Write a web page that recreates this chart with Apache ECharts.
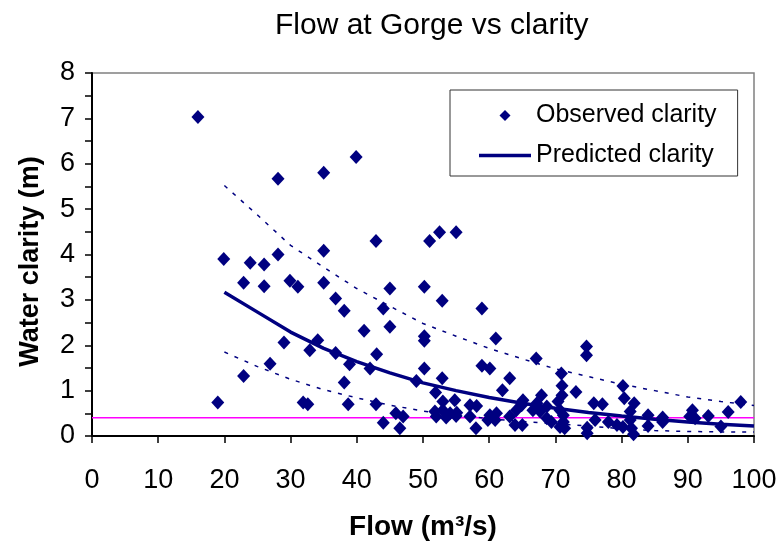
<!DOCTYPE html>
<html>
<head>
<meta charset="utf-8">
<script src="https://cdn.jsdelivr.net/npm/echarts@6/dist/echarts.min.js"></script>
<style>html,body{margin:0;padding:0;background:#fff}#c{width:781px;height:551px}</style>
</head>
<body>
<div id="c"></div>
<script>
const titleText = 'Flow at Gorge vs clarity';
const xTitle = 'Flow (m³/s)';
const yTitle = 'Water clarity (m)';
const xTicks = [0, 10, 20, 30, 40, 50, 60, 70, 80, 90, 100];
const yTicks = [0, 1, 2, 3, 4, 5, 6, 7, 8];

const obsFlow = [16.0,19.0,19.9,22.9,22.9,23.9,26.0,26.0,26.9,28.1,28.1,29.0,29.9,31.1,31.9,32.6,32.9,34.1,35.0,35.0,35.0,36.8,36.8,38.1,38.1,38.9,38.7,39.9,41.1,42.0,42.9,43.0,42.9,44.0,44.0,45.0,45.0,45.9,47.0,46.5,49.0,50.2,50.2,50.2,50.2,51.0,52.5,52.9,52.9,51.9,55.0,53.0,54.8,51.8,53.0,54.1,55.1,52.0,53.5,55.0,57.1,58.1,57.1,58.0,58.9,58.9,60.1,61.0,62.0,63.1,60.1,61.1,59.8,60.9,63.1,64.1,64.9,65.1,63.9,65.0,67.1,67.9,67.2,66.6,67.7,68.7,68.7,69.4,70.9,71.0,71.0,70.4,70.7,71.2,71.2,70.7,71.4,73.1,74.7,74.7,74.8,74.8,76.0,75.8,77.1,78.0,79.3,80.2,80.2,80.4,81.9,81.3,81.3,81.5,81.8,84.0,84.0,86.2,86.2,90.7,90.3,91.1,93.1,95.0,96.1,98.0];
const obsClarity = [7.03,0.74,3.90,3.38,1.32,3.82,3.78,3.30,1.59,5.67,4.00,2.06,3.42,3.29,0.74,0.70,1.89,2.11,5.80,4.08,3.38,3.03,1.83,2.76,1.18,1.58,0.70,6.15,2.32,1.49,4.30,1.80,0.70,2.81,0.29,3.25,2.41,0.50,0.43,0.17,1.21,3.29,2.20,2.10,1.49,4.30,4.49,2.98,1.27,0.96,4.49,0.76,0.79,0.54,0.57,0.50,0.51,0.43,0.41,0.44,0.68,0.66,0.43,0.17,2.81,1.55,1.49,2.15,1.01,1.27,0.46,0.50,0.35,0.35,0.43,0.57,0.68,0.79,0.24,0.24,1.71,0.90,0.72,0.57,0.54,0.65,0.39,0.31,1.38,1.11,0.90,0.76,0.57,0.46,0.31,0.20,0.17,0.97,1.97,1.78,0.18,0.06,0.35,0.72,0.70,0.31,0.24,0.20,1.10,0.83,0.72,0.54,0.35,0.17,0.04,0.46,0.22,0.41,0.31,0.57,0.43,0.39,0.44,0.21,0.53,0.75];

const predFlow = [20,25,30,35,40,45,50,55,60,65,70,75,80,85,90,95,100];
const predClarity = [3.17,2.73,2.29,1.93,1.64,1.39,1.17,1.00,0.85,0.72,0.61,0.52,0.44,0.37,0.31,0.26,0.22];
const upperClarity = [5.52,4.87,4.20,3.72,3.25,2.86,2.48,2.20,1.93,1.70,1.48,1.31,1.14,1.00,0.86,0.76,0.67];
const lowerClarity = [1.85,1.53,1.25,1.02,0.84,0.68,0.55,0.46,0.38,0.32,0.27,0.22,0.16,0.12,0.10,0.09,0.09];

const thresholdFlow = [0, 100];
const thresholdClarity = [0.4, 0.4];

const zip = (a, b) => a.map((v, i) => [v, b[i]]);
const FONT = '"Liberation Sans", Arial, sans-serif';
const NAVY = '#000080';

const chart = echarts.init(document.getElementById('c'), null, {renderer: 'canvas'});
chart.setOption({
  animation: false,
  backgroundColor: '#ffffff',
  title: {
    text: titleText, left: 270, top: 6,
    textStyle: {fontFamily: FONT, fontSize: 30, fontWeight: 'normal', color: '#000'}
  },
  grid: {left: 92, top: 73, right: 27, bottom: 115, show: true, borderColor: '#808080', borderWidth: 1.5, backgroundColor: 'transparent'},
  legend: {
    left: 450, top: 90, orient: 'vertical',
    data: [
      {name: 'Observed clarity', icon: 'path://M0,-1L1,0L0,1L-1,0Z'},
      {name: 'Predicted clarity', icon: 'path://M0,0L52,0L52,3.5L0,3.5Z'}
    ],
    symbolKeepAspect: true,
    itemWidth: 52, itemHeight: 11, itemGap: 15,
    padding: [13, 21, 8, 29],
    borderColor: '#333', borderWidth: 1,
    textStyle: {fontFamily: FONT, fontSize: 25, color: '#000'}
  },
  xAxis: {
    type: 'value', min: 0, max: 100, interval: 10,
    name: xTitle, nameLocation: 'middle', nameGap: 77,
    nameTextStyle: {fontFamily: FONT, fontSize: 28, fontWeight: 'bold', color: '#000'},
    axisLine: {show: true, onZero: false, lineStyle: {color: '#000', width: 2}},
    axisTick: {show: true, inside: false, length: 7, lineStyle: {color: '#000', width: 1.5}},
    axisLabel: {fontFamily: FONT, fontSize: 27, color: '#000', margin: 31, formatter: v => xTicks.includes(v) ? String(v) : ''},
    splitLine: {show: false}
  },
  yAxis: {
    type: 'value', min: 0, max: 8, interval: 1,
    name: yTitle, nameLocation: 'middle', nameGap: 48,
    nameTextStyle: {fontFamily: FONT, fontSize: 27, fontWeight: 'bold', color: '#000', padding: [0, 14, 0, 0]},
    axisLine: {show: true, onZero: false, lineStyle: {color: '#000', width: 2}},
    axisTick: {show: true, inside: false, length: 7, lineStyle: {color: '#000', width: 1.5}},
    minorTick: {show: true, splitNumber: 2, length: 7, lineStyle: {color: '#000', width: 1.5}},
    axisLabel: {fontFamily: FONT, fontSize: 27, color: '#000', margin: 17, formatter: v => yTicks.includes(v) ? String(v) : ''},
    splitLine: {show: false}
  },
  series: [
    {
      name: 'Observed clarity', type: 'scatter', symbol: 'diamond', symbolSize: [13, 14],
      itemStyle: {color: NAVY, opacity: 1}, data: zip(obsFlow, obsClarity), z: 2
    },
    {
      name: 'Threshold', type: 'line', symbol: 'none', silent: true,
      lineStyle: {color: '#ff00ff', width: 1.5}, data: zip(thresholdFlow, thresholdClarity), z: 1
    },
    {
      name: 'Predicted clarity', type: 'line', symbol: 'none', smooth: false,
      itemStyle: {color: NAVY}, lineStyle: {color: NAVY, width: 3.5},
      data: zip(predFlow, predClarity), z: 3
    },
    {
      name: 'Upper bound', type: 'line', symbol: 'none',
      lineStyle: {color: NAVY, width: 1.5, type: [4, 7]},
      data: zip(predFlow, upperClarity), z: 3
    },
    {
      name: 'Lower bound', type: 'line', symbol: 'none',
      lineStyle: {color: NAVY, width: 1.5, type: [4, 7]},
      data: zip(predFlow, lowerClarity), z: 3
    }
  ]
});
</script>
</body>
</html>
